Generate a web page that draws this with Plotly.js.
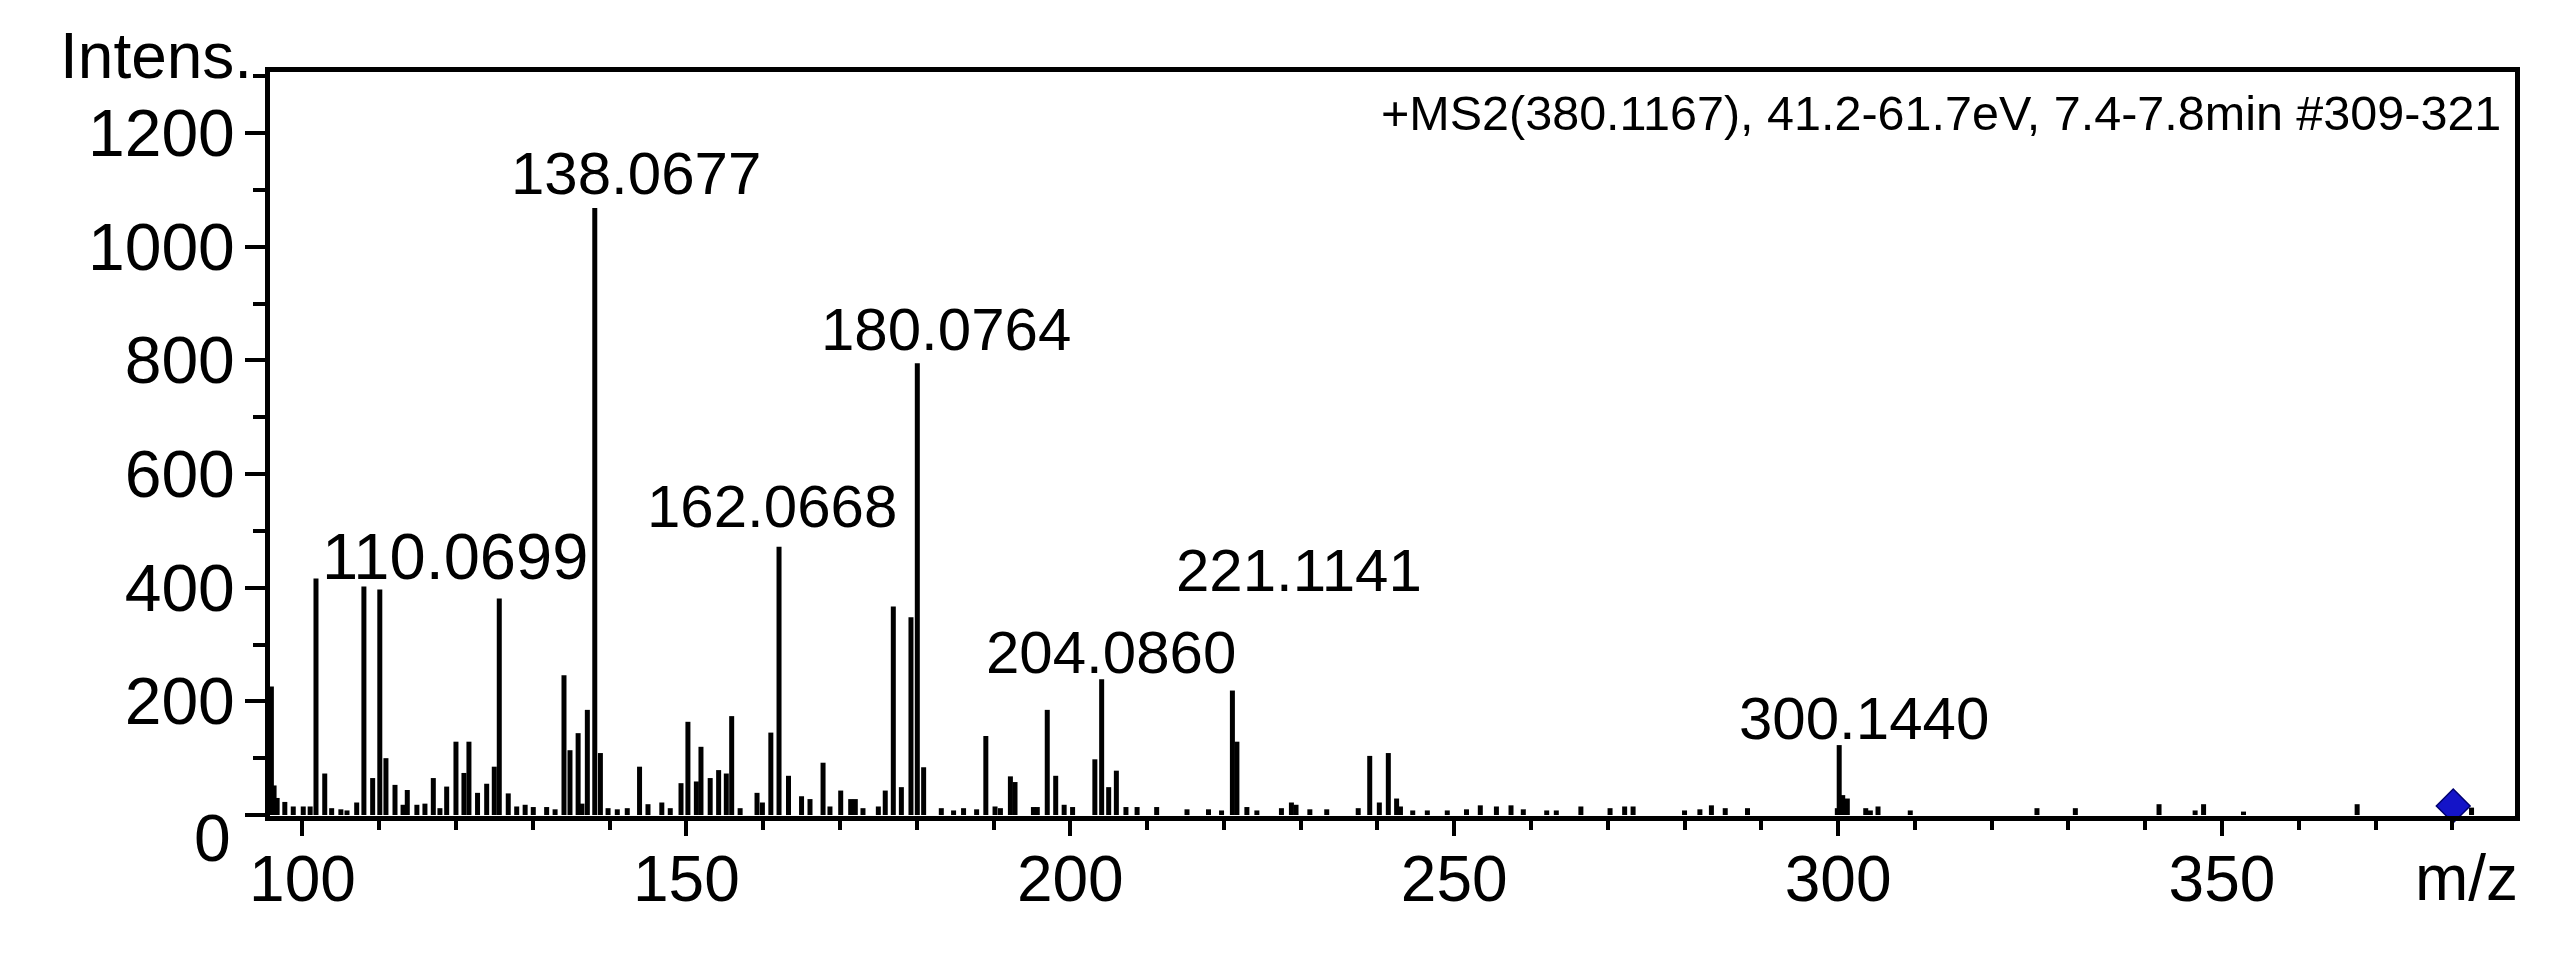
<!DOCTYPE html>
<html>
<head>
<meta charset="utf-8">
<script src="https://cdn.plot.ly/plotly-3.0.1.min.js"></script>
<style>html,body{margin:0;padding:0;background:#fff;}#chart{width:2568px;height:963px;}</style>
</head>
<body>
<div id="chart"></div>
<script>
// ---- data ----
const mz = [
  95.95, 96.3, 96.7, 97.7, 98.8, 100.1, 101.0, 101.76, 102.9, 103.8, 105.0, 105.8,
  107.06, 108.0, 109.14, 110.0699, 110.87, 112.05, 113.1, 113.65, 114.9, 115.95,
  117.04, 117.9, 118.78, 119.99, 121.03, 121.68, 122.8, 123.99, 124.98, 125.63,
  126.8, 127.9, 129.0, 130.06, 131.8, 132.9, 134.06, 134.84, 135.9, 136.4, 137.1,
  138.0677, 138.8, 139.8, 141.0, 142.3, 143.9, 145.0, 146.8, 147.9, 149.3, 150.2,
  151.3, 151.9, 153.1, 154.2, 155.2, 155.9, 157.0, 159.2, 159.9, 161.0, 162.0668,
  163.3, 165.0, 166.1, 167.8, 168.7, 170.1, 171.4, 172.0, 173.0, 175.0, 175.9,
  176.95, 178.0, 179.25, 180.0764, 180.9, 183.2, 184.8, 186.1, 187.8, 189.0,
  190.2, 190.9, 192.2, 192.8, 195.2, 195.7, 197.0, 198.1, 199.2, 200.3, 203.2,
  204.086, 205.0, 206.0, 207.25, 208.7, 211.25, 215.2, 218.0, 219.7, 221.1141,
  221.7, 223.0, 224.3, 227.5, 228.8, 229.4, 231.2, 233.4, 237.5, 239.0, 240.25,
  241.42, 242.5, 243.0, 244.6, 246.5, 249.1, 251.6, 253.4, 255.5, 257.4, 259.0,
  262.05, 263.3, 266.5, 270.3, 272.2, 273.3, 280.0, 282.0, 283.5, 285.3, 288.2,
  299.9, 300.144, 300.6, 301.2, 303.6, 304.2, 305.2, 309.4, 325.9, 330.9, 341.8,
  346.5, 347.6, 352.8, 367.6, 382.5
];
const intensity = [
  226, 52, 30, 23, 15, 15, 15, 416, 73, 12, 10, 8,
  22, 402, 65, 397, 100, 53, 18, 44, 18, 20,
  65, 12, 50, 129, 74, 129, 39, 55, 85, 381,
  38, 15, 18, 14, 14, 10, 246, 114, 144, 20, 185,
  1068, 109, 12, 10, 12, 85, 19, 22, 12, 56, 164,
  59, 120, 65, 79, 73, 174, 12, 39, 22, 145, 472,
  69, 33, 28, 92, 15, 43, 28, 28, 12, 15, 43,
  367, 49, 348, 795, 84, 12, 8, 12, 10, 139,
  15, 12, 68, 58, 14, 14, 185, 69, 18, 14, 98,
  239, 49, 78, 14, 14, 14, 10, 10, 8, 219,
  129, 14, 8, 12, 22, 18, 10, 10, 12, 104, 22,
  109, 29, 15, 8, 8, 8, 10, 17, 15, 17, 10,
  8, 8, 15, 12, 15, 15, 8, 10, 17, 12, 12,
  12, 123, 35, 29, 12, 8, 15, 8, 12, 12, 19,
  8, 19, 6, 19, 13
];
const labelTexts = ['110.0699', '138.0677', '162.0668', '180.0764', '204.0860', '221.1141', '300.1440'];
const labelMz = [110.0699, 138.0677, 162.0668, 180.0764, 204.086, 221.1141, 300.144];
const precursorMz = [380.1167];
const precursorLevel = [16];
const xTickVals = [100, 150, 200, 250, 300, 350];
const yTickVals = [0, 200, 400, 600, 800, 1000, 1200];
const yTickText = ['', '200', '400', '600', '800', '1000', '1200'];
const headerText = '+MS2(380.1167), 41.2-61.7eV, 7.4-7.8min #309-321';
const yTitle = 'Intens.';
const xTitle = 'm/z';

// ---- label placement (pixel offsets from labelled peak) ----
const labelStyle = {
  '110.0699': {dx: 75, dy: 33, size: 65},
  '138.0677': {dx: 41, dy: 35, size: 60},
  '162.0668': {dx: -7, dy: 40, size: 60},
  '180.0764': {dx: 29, dy: 34, size: 60},
  '204.0860': {dx: 9, dy: 27, size: 60},
  '221.1141': {dx: 67, dy: 120, size: 60},
  '300.1440': {dx: 25, dy: 27, size: 60}
};

const FONT = 'Liberation Sans, Arial, sans-serif';

// stick spectrum built from arrays
const sx = [], sy = [];
for (let i = 0; i < mz.length; i++) {
  sx.push(mz[i], mz[i], null);
  sy.push(0, intensity[i], null);
}

const traces = [
  {
    type: 'scatter', mode: 'lines', x: sx, y: sy,
    line: {color: '#000', width: 5}, hoverinfo: 'skip', cliponaxis: true
  },
  {
    type: 'scatter', mode: 'markers', x: precursorMz, y: precursorLevel,
    marker: {symbol: 'diamond', size: 26, color: '#1414c8', line: {color: '#000070', width: 1.5}},
    cliponaxis: false
  }
];

const annotations = labelTexts.map((t, k) => {
  const m = labelMz[k];
  const idx = mz.indexOf(m);
  const st = labelStyle[t];
  return {
    text: t, x: m, y: intensity[idx], xref: 'x', yref: 'y',
    xanchor: 'center', yanchor: 'middle', xshift: st.dx, yshift: st.dy,
    showarrow: false, font: {family: FONT, size: st.size, color: '#000'}
  };
});
annotations.push(
  {text: headerText, xref: 'paper', yref: 'paper', x: 1, y: 1, xanchor: 'right', yanchor: 'middle',
   xshift: -12, yshift: -41, showarrow: false, font: {family: FONT, size: 48.5, color: '#000'}},
  {text: yTitle, xref: 'paper', yref: 'paper', x: 0, y: 1, xanchor: 'right', yanchor: 'middle',
   xshift: -16, yshift: 16, showarrow: false, font: {family: FONT, size: 64, color: '#000'}},
  {text: xTitle, xref: 'paper', yref: 'paper', x: 1, y: 0, xanchor: 'right', yanchor: 'middle',
   xshift: 5, yshift: -62, showarrow: false, font: {family: FONT, size: 64, color: '#000'}},
  {text: '0', xref: 'paper', yref: 'y', x: 0, y: 0, xanchor: 'right', yanchor: 'middle',
   xshift: -37, yshift: -23, showarrow: false, font: {family: FONT, size: 66, color: '#000'}}
);

const layout = {
  width: 2568, height: 963,
  margin: {l: 270, r: 53, t: 72, b: 147, pad: 0},
  paper_bgcolor: '#fff', plot_bgcolor: '#fff',
  showlegend: false,
  font: {family: FONT, color: '#000'},
  xaxis: {
    range: [95.77, 388.16], tickvals: xTickVals, ticks: 'outside', ticklen: 15, tickwidth: 4,
    tickcolor: '#000', showline: true, linewidth: 5, linecolor: '#000', mirror: true,
    showgrid: false, zeroline: false, tickfont: {family: FONT, size: 64, color: '#000'},
    ticklabelstandoff: -12,
    minor: {tick0: 0, dtick: 10, ticks: 'outside', ticklen: 9, tickwidth: 4, tickcolor: '#000', showgrid: false}
  },
  yaxis: {
    range: [-1.76, 1307.4], tickvals: yTickVals, ticktext: yTickText, ticks: 'outside', ticklen: 20, tickwidth: 4,
    tickcolor: '#000', showline: true, linewidth: 5, linecolor: '#000', mirror: true,
    showgrid: false, zeroline: false, tickfont: {family: FONT, size: 66, color: '#000'},
    ticklabelstandoff: -3,
    minor: {tick0: 0, dtick: 100, ticks: 'outside', ticklen: 12, tickwidth: 4, tickcolor: '#000', showgrid: false}
  },
  annotations: annotations
};

Plotly.newPlot('chart', traces, layout, {staticPlot: true, displayModeBar: false});
</script>
</body>
</html>
